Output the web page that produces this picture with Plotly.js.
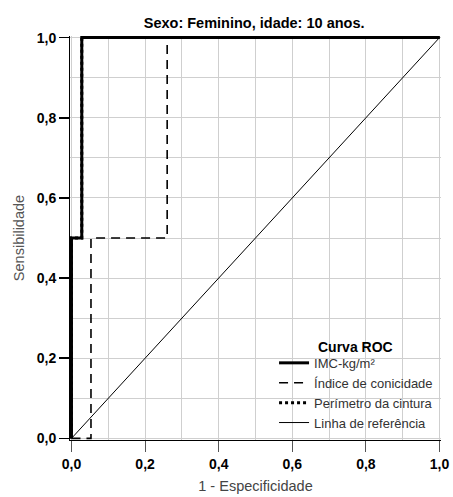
<!DOCTYPE html>
<html>
<head>
<meta charset="utf-8">
<script src="https://cdn.plot.ly/plotly-3.0.1.min.js"></script>
<style>html,body{margin:0;padding:0;background:#fff;}#chart{width:453px;height:497px;}</style>
</head>
<body>
<div id="chart"></div>
<script>
// ROC curve data (1 - Especificidade, Sensibilidade)
const imcX = [0, 0, 0.028, 0.028, 1];
const imcY = [0, 0.5, 0.5, 1, 1];
const conicX = [0, 0.053, 0.053, 0.26, 0.26, 1];
const conicY = [0, 0, 0.5, 0.5, 1, 1];
const perimX = [0, 0, 0.028, 0.028, 1];
const perimY = [0, 0.5, 0.5, 1, 1];
const refX = [0, 1];
const refY = [0, 1];
const tickVals = [0, 0.2, 0.4, 0.6, 0.8, 1.0];
const tickText = ["0,0", "0,2", "0,4", "0,6", "0,8", "1,0"];
const minorGridVals = [0.1, 0.3, 0.5, 0.7, 0.9];

const traces = [
  {x: perimX, y: perimY, mode: 'lines', name: 'Perímetro da cintura', line: {color: '#000', width: 3, dash: 'dot'}, legendrank: 3},
  {x: conicX, y: conicY, mode: 'lines', name: 'Índice de conicidade', line: {color: '#000', width: 1.6, dash: '9px,6px'}, legendrank: 2},
  {x: refX, y: refY, mode: 'lines', name: 'Linha de referência', line: {color: '#000', width: 1}, legendrank: 4},
  {x: imcX, y: imcY, mode: 'lines', name: 'IMC-kg/m²', line: {color: '#000', width: 3}, legendrank: 1}
];

const gridColor = '#cfcfcf';
function axisBase(tickcolor, ticklen, tickwidth) {
  return {
    range: [-0.004, 1.004], tickmode: 'array', tickvals: tickVals, ticktext: tickText,
    showgrid: true, gridcolor: gridColor, gridwidth: 1,
    minor: {tickmode: 'array', tickvals: minorGridVals, showgrid: true, gridcolor: gridColor, gridwidth: 1, ticks: ''},
    zeroline: false, showline: true, linecolor: '#000', linewidth: 1,
    ticks: 'outside', ticklen: ticklen, tickcolor: tickcolor, tickwidth: tickwidth,
    tickfont: {size: 14, weight: 'bold', color: '#000'},
    fixedrange: true
  };
}

const xaxis = axisBase('#555', 11, 1);
xaxis.title = {text: '1 - Especificidade', font: {size: 14.5, color: '#444'}, standoff: 10};
const yaxis = axisBase('#000', 10, 1.5);
yaxis.title = {text: 'Sensibilidade', font: {size: 14.5, color: '#555'}, standoff: 8};

const layout = {
  width: 453, height: 497,
  margin: {l: 70, r: 12, t: 36, b: 57},
  paper_bgcolor: '#fff', plot_bgcolor: 'rgba(0,0,0,0)',
  font: {family: 'Liberation Sans, Arial, sans-serif', color: '#000'},
  title: {text: 'Sexo: Feminino, idade: 10 anos.', font: {size: 14.5, weight: 'bold', color: '#000'}, x: 0.561, xanchor: 'center', y: 0.954, yanchor: 'middle'},
  xaxis: xaxis,
  yaxis: yaxis,
  showlegend: true,
  legend: {
    x: 0.55, xanchor: 'left', y: 0.228, yanchor: 'top',
    bgcolor: 'rgba(0,0,0,0)', borderwidth: 0,
    font: {size: 13, color: '#333'},
    itemwidth: 30, tracegroupgap: 0,
    traceorder: 'normal'
  },
  annotations: [
    {text: 'Curva ROC', xref: 'paper', yref: 'paper', x: 0.663, y: 0.2314, xanchor: 'left', yanchor: 'middle', showarrow: false, font: {size: 14, weight: 'bold', color: '#000'}}
  ]
};

Plotly.newPlot('chart', traces, layout, {displayModeBar: false, staticPlot: true});
</script>
</body>
</html>
